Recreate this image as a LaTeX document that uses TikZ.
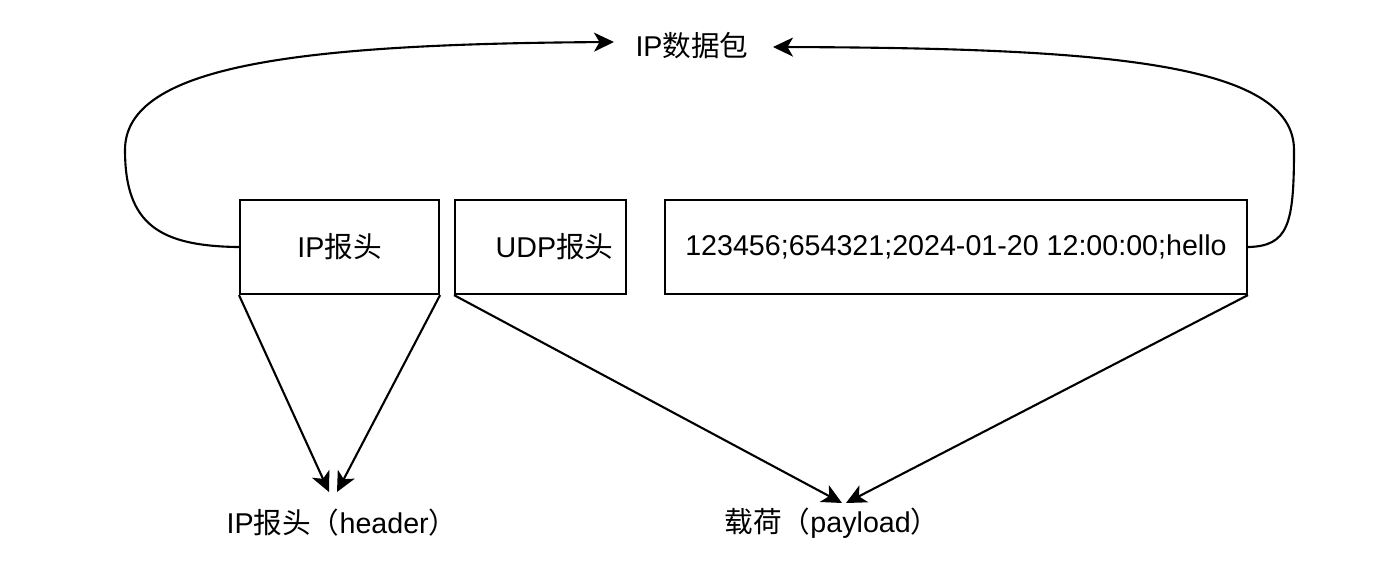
\documentclass[tikz,border=0pt]{standalone}
\usepackage{fontspec}
\setmainfont{Liberation Sans}
\newfontfamily\cjk{Noto Sans CJK SC}
\usetikzlibrary{arrows.meta}
\begin{document}
\begin{tikzpicture}[x=0.02cm,y=-0.02cm,
  box/.style={draw,line width=1.2pt,minimum height=1.88cm,inner sep=0pt,anchor=north west,font=\fontsize{16.3}{19}\selectfont},
  lbl/.style={font=\fontsize{16.3}{19}\selectfont,inner sep=0pt},
  conn/.style={line width=1.2pt,-{Stealth[length=0.4cm,width=0.38cm,inset=0.11cm]}},
  every node/.style={text=black}]
\useasboundingbox (0,0) rectangle (1392,578);
\node[box,minimum width=3.98cm] (ip) at (239,199) {IP{\cjk 报头}};
\node[box,minimum width=3.42cm] (udp) at (454,199) {\hspace*{0.56cm}UDP{\cjk 报头}};
\node[box,minimum width=11.64cm] (data) at (664,199) {123456;654321;2024-01-20 12:00:00;hello};
\node[lbl] (pkt) at (692,46) {IP{\cjk 数据包}};
\node[lbl] (hdr) at (342,523) {IP{\cjk 报头（}header{\cjk ）}};
\node[lbl] (pay) at (832,523) {{\cjk 载荷（}payload{\cjk ）}};
\coordinate (h1) at (329,492);
\coordinate (h2) at (337,492);
\coordinate (p1) at (842,503);
\coordinate (p2) at (846,503);
\coordinate (lt) at (614,42);
\coordinate (rt) at (773,47);
\draw[conn] (ip.west) .. controls (160,246) and (125,225) .. (125,150) .. controls (125,65) and (300,44) .. (lt);
\draw[conn] (data.east) .. controls (1288,246) and (1294,225) .. (1294,150) .. controls (1294,62) and (1100,48) .. (rt);
\draw[conn] (ip.south west) -- (h1);
\draw[conn] (ip.south east) -- (h2);
\draw[conn] (udp.south west) -- (p1);
\draw[conn] (data.south east) -- (p2);
\end{tikzpicture}
\end{document}
